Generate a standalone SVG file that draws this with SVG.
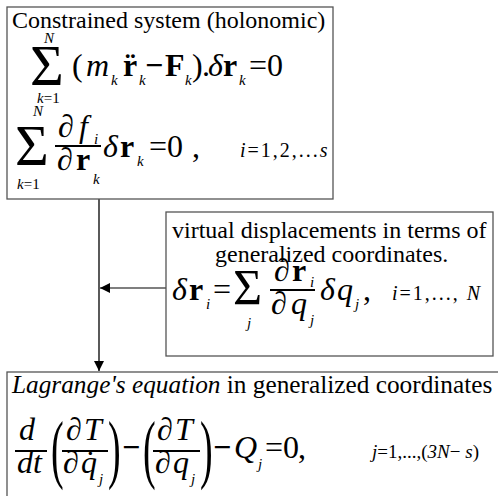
<svg xmlns="http://www.w3.org/2000/svg" width="498" height="496" viewBox="0 0 498 496">
<defs>
<style>
text{font-family:'Liberation Serif','Times New Roman',serif;fill:#000}
.t{font-size:24px}
.m{font-size:32px}
.i{font-style:italic}
.b{font-weight:bold}
.s{font-size:15px;font-style:italic}
.sn{font-size:15px}
.g{font-size:58px}
.r{font-size:20px;letter-spacing:2px}
.box{fill:#fff;stroke:#555;stroke-width:1.3}
.fl{stroke:#000;stroke-width:2}
</style>
<marker id="ah" viewBox="0 0 10 10" refX="10" refY="5" markerWidth="10" markerHeight="10" markerUnits="userSpaceOnUse" orient="auto">
<path d="M0,0 L10,5 L0,10 z" fill="#000"/>
</marker>
</defs>
<rect width="498" height="496" fill="#fff"/>

<g id="connectors">
<line x1="99" y1="199" x2="99" y2="371" stroke="#000" stroke-width="1.3" marker-end="url(#ah)"/>
<line x1="166" y1="288" x2="100" y2="288" stroke="#555" stroke-width="1.3" marker-end="url(#ah)"/>
</g>

<g id="constrained">
<rect class="box" x="7" y="7" width="326" height="192"/>
<text class="t" x="12" y="28">Constrained system (holonomic)</text>
<text class="g" x="30" y="85">Σ</text>
<text class="s" x="44" y="43">N</text>
<text class="sn" x="37" y="103"><tspan class="i">k</tspan>=1</text>
<text class="m" x="72" y="76">(</text>
<text class="m i" x="86" y="76">m</text>
<text class="s" x="111" y="85">k</text>
<text class="m b" x="123" y="76">r</text>
<text class="m b" x="125" y="76">¨</text>
<text class="s" x="139" y="85">k</text>
<text class="m b" x="145" y="76">−</text>
<text class="m b" x="165" y="76">F</text>
<text class="s" x="185" y="85">k</text>
<text class="m" x="192" y="76">)</text>
<text class="m" x="202" y="76">.</text>
<text class="m i" x="208" y="76">δ</text>
<text class="m b" x="223" y="76">r</text>
<text class="s" x="239" y="85">k</text>
<text class="m" x="249" y="76">=0</text>
<text class="g" x="15" y="165">Σ</text>
<text class="s" x="33" y="116">N</text>
<text class="sn" x="17" y="189"><tspan class="i">k</tspan>=1</text>
<text class="m" x="58" y="137">∂</text>
<text class="m i" x="79" y="137">f</text>
<text class="s" x="94" y="144">i</text>
<line class="fl" x1="55" y1="146" x2="101" y2="146"/>
<text class="m" x="57" y="170">∂</text>
<text class="m b" x="76" y="170">r</text>
<text class="s" x="93" y="184">k</text>
<text class="m i" x="103" y="157">δ</text>
<text class="m b" x="120" y="157">r</text>
<text class="s" x="137" y="166">k</text>
<text class="m" x="149" y="157">=0</text>
<text class="m" x="192" y="157">,</text>
<text class="r" x="240" y="157"><tspan class="i">i</tspan>=1,2,...<tspan class="i">s</tspan></text>
</g>

<g id="virtual">
<rect class="box" x="166" y="212" width="327" height="144"/>
<text class="t" x="172" y="238">virtual displacements in terms of</text>
<text class="t" x="215" y="262">generalized coordinates.</text>
<text class="m i" x="172" y="300">δ</text>
<text class="m b" x="189" y="300">r</text>
<text class="s" x="206" y="309">i</text>
<text class="m" x="213" y="300">=</text>
<text class="g" x="233" y="304" style="font-size:50px">Σ</text>
<text class="s" x="247" y="328">j</text>
<text class="m" x="274" y="281">∂</text>
<text class="m b" x="292" y="281">r</text>
<text class="s" x="310" y="287">i</text>
<line class="fl" x1="270" y1="290" x2="315" y2="290"/>
<text class="m" x="271" y="314">∂</text>
<text class="m i" x="291" y="314">q</text>
<text class="s" x="310" y="325">j</text>
<text class="m i" x="320" y="300">δ</text>
<text class="m i" x="337" y="300">q</text>
<text class="s" x="355" y="309">j</text>
<text class="m" x="363" y="300">,</text>
<text class="r" x="392" y="300"><tspan class="i">i</tspan>=1,..., <tspan class="i">N</tspan></text>
</g>

<g id="lagrange">
<rect class="box" x="7" y="372" width="500" height="140"/>
<text class="t" x="12" y="393" style="font-size:25.3px"><tspan class="i">Lagrange's equation</tspan> in generalized coordinates</text>
<text class="m i" x="19" y="440">d</text>
<line class="fl" x1="15" y1="451" x2="47" y2="451"/>
<text class="m i" x="17" y="473">dt</text>
<text class="m" transform="translate(51,474) scale(0.5,1)" style="font-size:76px">(</text>
<text class="m" x="66" y="440">∂</text>
<text class="m i" x="84" y="440">T</text>
<line class="fl" x1="62" y1="451" x2="108" y2="451"/>
<text class="m" x="63" y="473">∂</text>
<text class="m i" x="81" y="473">q</text>
<text class="m" x="85" y="473">˙</text>
<text class="s" x="99" y="484">j</text>
<text class="m" transform="translate(108,474) scale(0.5,1)" style="font-size:76px">)</text>
<text class="m b" x="122" y="458">−</text>
<text class="m" transform="translate(143,474) scale(0.5,1)" style="font-size:76px">(</text>
<text class="m" x="157" y="440">∂</text>
<text class="m i" x="175" y="440">T</text>
<line class="fl" x1="153" y1="451" x2="200" y2="451"/>
<text class="m" x="155" y="473">∂</text>
<text class="m i" x="173" y="473">q</text>
<text class="s" x="191" y="484">j</text>
<text class="m" transform="translate(200,474) scale(0.5,1)" style="font-size:76px">)</text>
<text class="m b" x="213" y="458">−</text>
<text class="m i" x="234" y="458">Q</text>
<text class="s" x="258" y="469">j</text>
<text class="m" x="265" y="458">=0</text>
<text class="m" x="298" y="458">,</text>
<text class="r" x="372" y="458" style="font-size:19px;letter-spacing:0px"><tspan class="i">j</tspan>=1,...,(<tspan class="i">3N</tspan>− <tspan class="i">s</tspan>)</text>
</g>
</svg>
